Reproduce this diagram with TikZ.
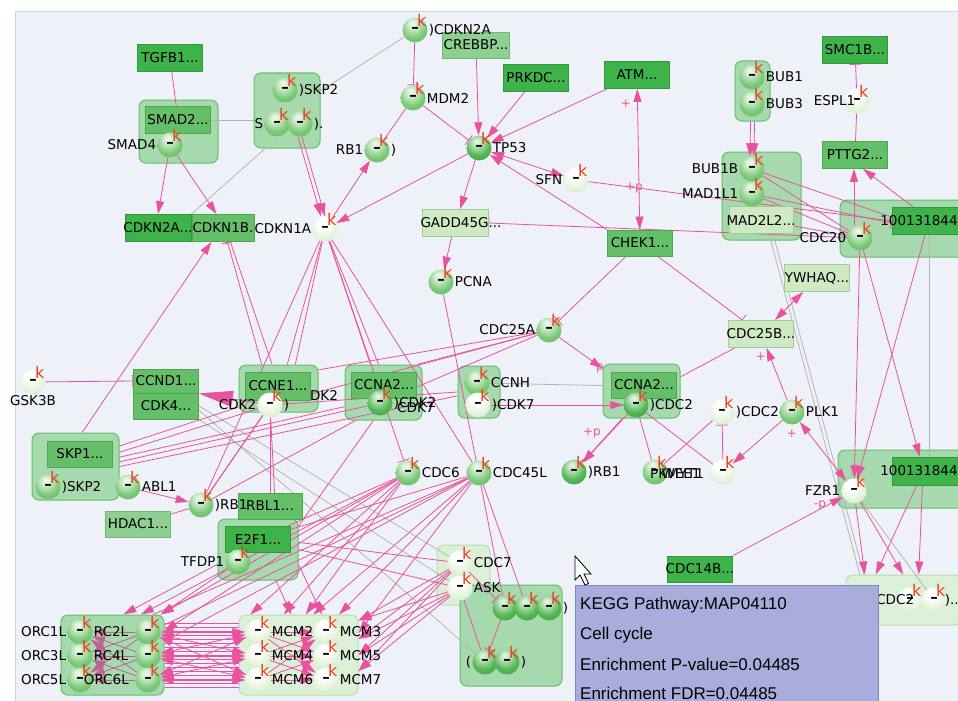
\documentclass[tikz,border=0pt]{standalone}
\usepackage{fontspec}
\setmainfont{DejaVu Sans}
\newfontfamily\infofont{Liberation Sans}
\usetikzlibrary{arrows.meta,calc}
\pgfdeclarelayer{grp}
\pgfdeclarelayer{edges}
\pgfsetlayers{grp,edges,main}
\definecolor{bgc}{HTML}{EEF2F8}
\definecolor{framec}{HTML}{C9D5E8}
\definecolor{pkc}{HTML}{E8529E}
\definecolor{grac}{HTML}{B4B4B4}
\definecolor{gdark}{HTML}{3DB34A}
\definecolor{gdarkd}{HTML}{2F9A3B}
\definecolor{gmid}{HTML}{65BF68}
\definecolor{gmidd}{HTML}{4AA94F}
\definecolor{glight}{HTML}{8FCF91}
\definecolor{glightd}{HTML}{6DBB70}
\definecolor{gpale}{HTML}{CFE9C4}
\definecolor{gpaled}{HTML}{9ACF92}
\definecolor{grpf}{HTML}{A6DAAE}
\definecolor{grpd}{HTML}{63C067}
\definecolor{grppf}{HTML}{DCF0D8}
\definecolor{grppd}{HTML}{B5DFB0}
\definecolor{infof}{HTML}{A8ADDB}
\definecolor{infod}{HTML}{7D86C6}
\definecolor{kred}{HTML}{F03C1E}
\definecolor{ballG}{HTML}{7FCB7C}
\definecolor{ballGr}{HTML}{56AE55}
\definecolor{ballD}{HTML}{55B855}
\definecolor{ballDr}{HTML}{3A963C}
\definecolor{ballP}{HTML}{E0F2D7}
\definecolor{ballPr}{HTML}{B4DAAA}
\pgfdeclareradialshading{shg}{\pgfpoint{-5bp}{14bp}}{color(0bp)=(ballG!15!white);color(6bp)=(ballG!25!white);color(24bp)=(ballG);color(44bp)=(ballGr);color(70bp)=(ballGr)}
\pgfdeclareradialshading{shd}{\pgfpoint{-5bp}{14bp}}{color(0bp)=(ballD!15!white);color(5bp)=(ballD!25!white);color(24bp)=(ballD);color(44bp)=(ballDr);color(70bp)=(ballDr)}
\pgfdeclareradialshading{shp}{\pgfpoint{-5bp}{14bp}}{color(0bp)=(white);color(10bp)=(white);color(28bp)=(ballP);color(46bp)=(ballPr);color(70bp)=(ballPr)}
\newcommand\ov[1]{\makebox[0pt]{#1}}
\begin{document}
\begin{tikzpicture}[x=1pt,y=-1pt,
 lab/.style={font=\fontsize{13.5}{14}\selectfont, inner sep=1pt, text=black},
 kk/.style={text=kred, font=\fontsize{16}{16}\selectfont, inner sep=0pt, xshift=-7pt, yshift=-6pt},
 ballbase/.style={circle, minimum size=25pt, inner sep=0pt, font=\bfseries\fontsize{15}{15}\selectfont, label={[kk]45:k}},
 gb/.style={ballbase, shading=shg},
 db/.style={ballbase, shading=shd},
 pb/.style={ballbase, shading=shp},
 box/.style={rectangle, minimum width=65pt, minimum height=27pt, inner sep=0pt, line width=0.8pt, font=\fontsize{13.5}{14}\selectfont},
 bdark/.style={box, fill=gdark, draw=gdarkd},
 bmid/.style={box, fill=gmid, draw=gmidd},
 blight/.style={box, fill=glight, draw=glightd},
 bpale/.style={box, fill=gpale, draw=gpaled},
 grp/.style={rectangle, rounded corners=7pt, fill=grpf, draw=grpd, line width=1pt, inner sep=0pt},
 grpp/.style={grp, fill=grppf, draw=grppd},
 e/.style={draw=pkc, line width=0.8pt},
 ea/.style={e, -{Triangle[width=8pt,length=13pt]}},
 eabig/.style={e, -{Triangle[width=16pt,length=34pt]}},
 eaa/.style={e, {Triangle[width=8pt,length=13pt]}-{Triangle[width=8pt,length=13pt]}},
 ei/.style={e, -{Bar[width=12pt]}},
 eg/.style={draw=grac, line width=0.8pt},
 pl/.style={text=pkc, font=\fontsize{12}{12}\selectfont, inner sep=0pt},
 info/.style={font=\infofont\fontsize{17}{18}\selectfont, anchor=west, inner sep=0pt}
]
\useasboundingbox (0,0) rectangle (958,701);
\begin{pgfonlayer}{grp}
\fill[white] (0,0) rectangle (958,701);
\filldraw[fill=bgc, draw=framec, line width=1pt] (15,12) rectangle (975,720);
\node[grp, minimum width=79pt, minimum height=63pt] (gsmad) at (178.5,131.5) {};
\node[grp, minimum width=66pt, minimum height=75pt] (gskp2) at (287,110.5) {};
\node[grp, minimum width=35pt, minimum height=60pt] (gbub) at (752.5,91) {};
\node[grp, minimum width=79pt, minimum height=88pt] (gmad) at (761.5,196) {};
\node[grp, minimum width=130pt, minimum height=57pt] (gcdc20) at (905,228.5) {};
\node[grp, minimum width=79pt, minimum height=47pt] (gccne) at (278.5,388.5) {};
\node[grp, minimum width=77pt, minimum height=55pt] (gccna2a) at (383.5,392.5) {};
\node[grp, minimum width=42pt, minimum height=52pt] (gccnh) at (479,392) {};
\node[grp, minimum width=77pt, minimum height=54pt] (gccna2b) at (641.5,391) {};
\node[grp, minimum width=87pt, minimum height=67pt] (gskp1) at (75.5,466.5) {};
\node[grp, minimum width=80pt, minimum height=61pt] (ge2f1) at (258,549.5) {};
\node[grpp, minimum width=53pt, minimum height=60pt] (gcdc7) at (463.5,575) {};
\node[grp, minimum width=102pt, minimum height=101pt] (gbig) at (511,635.5) {};
\node[grp, minimum width=132pt, minimum height=58pt] (gfzr1) at (904,479) {};
\node[grpp, minimum width=116pt, minimum height=50pt] (gbr) at (904,600) {};
\node[grp, minimum width=103pt, minimum height=80pt] (gorc) at (112.5,655) {};
\node[grpp, minimum width=119pt, minimum height=80pt] (gmcm) at (298.5,655) {};
\end{pgfonlayer}

% boxes
\node[bdark] (tgfb) at (170,58) {TGFB1...};
\node[bmid] (smad2) at (178,120) {SMAD2...};
\node[blight, minimum width=67pt, minimum height=26pt] (crebbp) at (476,45) {\ov{CREBBP...}};
\node[bdark] (prkdc) at (536,78) {PRKDC...};
\node[bdark] (atm) at (637,75) {ATM...};
\node[bdark, minimum width=66pt] (cdkn2ab) at (158,228) {\ov{CDKN2A...}};
\node[bmid, minimum width=62pt] (cdkn1b) at (223,228) {\ov{CDKN1B.}};
\node[bpale, minimum width=66pt] (gadd) at (455,223) {\ov{\hspace{12pt}GADD45G...}};
\node[bmid, minimum height=26pt] (chek1) at (640,243) {CHEK1...};
\node[bdark] (smc1b) at (855,50) {SMC1B...};
\node[bmid] (pttg2) at (855,155) {PTTG2...};
\node[bpale, minimum width=64pt] (mad2l2) at (761,220) {\ov{MAD2L2...}};
\node[bdark, minimum width=66pt] (b1001) at (925,221) {\ov{\hspace{-12pt}100131844}};
\node[bpale] (ywhaq) at (817,278) {\ov{YWHAQ...}};
\node[bpale] (cdc25b) at (761,334) {\ov{CDC25B...}};
\node[bmid, minimum height=24pt] (ccnd1) at (166,381) {CCND1...};
\node[bmid, minimum height=26pt] (cdk4) at (166,406) {CDK4...};
\node[bmid, minimum height=28pt] (ccne1) at (278,386) {\ov{CCNE1...}};
\node[bmid, minimum height=26pt] (ccna2a) at (384,385) {\ov{CCNA2...}};
\node[bmid, minimum height=26pt] (ccna2b) at (644,385) {\ov{CCNA2...}};
\node[bmid, minimum height=26pt] (skp1) at (80,454) {SKP1...};
\node[bmid, minimum width=64pt, minimum height=26pt] (rbl1) at (270,506) {RBL1...};
\node[blight, minimum height=26pt] (hdac1) at (138,524) {HDAC1...};
\node[bdark, minimum height=26pt] (e2f1) at (258,539) {E2F1...};
\node[bdark, minimum height=26pt] (cdc14b) at (700,569) {\ov{CDC14B...}};
\node[bdark, minimum width=66pt, minimum height=28pt] (b1002) at (925,471) {\ov{\hspace{-12pt}100131844}};

% balls
\node[gb, label={[lab]0:)CDKN2A}] (cdkn2a) at (415,30) {–};
\node[gb, label={[lab]0:)SKP2}] (skp2a) at (285,90) {–};
\node[gb, label={[lab]180:S}] (skp2b) at (277,124) {–};
\node[gb, label={[lab]0:).}] (skp2c) at (300,124) {–};
\node[gb, label={[lab]180:SMAD4}] (smad4) at (170,145) {–};
\node[gb, label={[lab]0:MDM2}] (mdm2) at (413,98) {–};
\node[gb, label={[lab]180:RB1}, label={[lab]0:)}] (rb1a) at (377,150) {–};
\node[db, label={[lab]0:TP53}] (tp53) at (479,148) {–};
\node[pb, label={[lab]180:SFN}] (sfn) at (576,180) {–};
\node[pb, label={[lab]180:CDKN1A}] (cdkn1a) at (325,229) {–};
\node[gb, label={[lab]0:PCNA}] (pcna) at (441,282) {–};
\node[gb, label={[lab]180:CDC25A}] (cdc25a) at (549,330) {–};
\node[gb, label={[lab]0:BUB1}] (bub1) at (752,77) {–};
\node[gb, label={[lab]0:BUB3}] (bub3) at (752,104) {–};
\node[pb, label={[lab,xshift=12pt]180:ESPL1}] (espl1) at (857,101) {–};
\node[gb, label={[lab]180:BUB1B}] (bub1b) at (752,169) {–};
\node[gb, label={[lab]180:MAD1L1}] (mad1l1) at (752,194) {–};
\node[gb, label={[lab]180:CDC20}] (cdc20) at (860,238) {–};
\node[pb, label={[lab]-90:GSK3B}] (gsk3b) at (33,382) {–};
\node[pb, label={[lab]180:CDK2}, label={[lab]0:)}] (cdk2a) at (270,405) {–};
\node[lab] (dk2) at (324,395) {DK2};
\node[db, label={[lab]0:)CDK2}] (cdk2b) at (380,403) {–};
\node[lab, anchor=west] (cdk7t) at (396,408) {CDK7};
\node[gb, label={[lab]0:CCNH}] (ccnh) at (477,383) {–};
\node[pb, label={[lab]0:)CDK7}] (cdk7) at (478,405) {–};
\node[db, label={[lab]0:)CDC2}] (cdc2a) at (636,405) {–};
\node[pb, label={[lab]0:)CDC2}] (cdc2b) at (722,412) {–};
\node[gb, label={[lab]0:PLK1}] (plk1) at (792,412) {–};
\node[db, label={[lab]0:)RB1}] (rb1b) at (574,472) {–};
\node[gb] (pkmyt) at (655,472) {–};
\node[pb] (wee1) at (723,472) {–};
\node[lab] (pkt) at (677,474) {PKMYT1};
\node[lab] (weet) at (681,474) {WEE1};
\node[gb, label={[lab]0:CDC6}] (cdc6) at (408,473) {–};
\node[gb, label={[lab]0:CDC45L}] (cdc45l) at (479,473) {–};
\node[gb, label={[lab]0:)SKP2}] (skp2d) at (48,487) {–};
\node[gb, label={[lab]0:ABL1}] (abl1) at (128,487) {–};
\node[gb, label={[lab]0:)RB1}] (rb1c) at (201,505) {–};
\node[gb, label={[lab]180:TFDP1}] (tfdp1) at (238,562) {–};
\node[pb, label={[lab]0:CDC7}] (cdc7) at (460,563) {–};
\node[pb, label={[lab]0:ASK}] (ask) at (460,588) {–};
\node[db, label={[lab]0:)}] (b1) at (505,608) {–};
\node[db, label={[lab]0:)}] (b2) at (527,608) {–};
\node[db, label={[lab]0:)}] (b3) at (549,608) {–};
\node[db, label={[lab]180:(}] (b4) at (485,662) {–};
\node[db, label={[lab]0:)}] (b5) at (507,662) {–};
\node[pb, label={[lab]180:FZR1}] (fzr1) at (854,491) {–};
\node[pb, label={[lab,xshift=18pt]180:CDC2}] (br1) at (910,600) {–};
\node[pb, label={[lab,xshift=-3pt]0:)..}] (br2) at (934,600) {–};
\node[gb, label={[lab]180:ORC1L}, label={[lab]0:RC2L}] (orc1) at (80,632) {–};
\node[gb, label={[lab]180:ORC3L}, label={[lab]0:RC4L}] (orc3) at (80,656) {–};
\node[gb, label={[lab]180:ORC5L}, label={[lab,xshift=-10pt]0:ORC6L}] (orc5) at (80,680) {–};
\node[gb] (orc2) at (148,632) {–};
\node[gb] (orc4) at (148,656) {–};
\node[gb] (orc6) at (148,680) {–};
\node[pb, label={[lab]0:MCM2}] (mcm2) at (258,632) {–};
\node[pb, label={[lab]0:MCM4}] (mcm4) at (258,656) {–};
\node[pb, label={[lab]0:MCM6}] (mcm6) at (258,680) {–};
\node[pb, label={[lab]0:MCM3}] (mcm3) at (326,632) {–};
\node[pb, label={[lab]0:MCM5}] (mcm5) at (326,656) {–};
\node[pb, label={[lab]0:MCM7}] (mcm7) at (326,680) {–};

\coordinate (c20t) at ([xshift=-6pt]cdc20.north);

\begin{pgfonlayer}{edges}
\draw[e] (tgfb) -- (smad2);
\draw[eg] (smad2.east) -- (smad2.east -| gskp2.west);
\draw[ea] (smad4) -- (cdkn2ab.north);
\draw[ea] (smad4) -- (cdkn1b.115);
\draw[eg] (gskp2.240) -- (cdkn2ab.north east);
\draw[eg] (cdkn2a) -- (gskp2.30);
\draw[ea] ([xshift=-2pt]skp2c.south) -- ([xshift=-4pt]cdkn1a.north);
\draw[ea] ([xshift=2pt]skp2c.south) -- ([xshift=0pt]cdkn1a.north);
\draw[ei] (cdkn2a) -- (mdm2);
\draw[ei] (mdm2) -- (tp53);
\draw[e] (mdm2) -- (rb1a);
\draw[ea] (crebbp) -- (tp53);
\draw[ea] (prkdc) -- (tp53);
\draw[ea] (atm) -- (tp53);
\draw[ea] (tp53) -- (cdkn1a);
\draw[ea] (cdkn1a) -- (rb1a);
\draw[ea] (tp53) -- (gadd.70);
\draw[eaa] (tp53) -- (sfn);
\draw[ea] (chek1.north west) -- (tp53);
\draw[e] (sfn) -- (b1001.west);
\draw[eaa] (atm) -- (chek1);
\draw[ei] (chek1) -- (cdc25a);
\draw[ei] (chek1) -- (cdc25b);
\draw[ei] (cdc20) -- (gadd.east);
\draw[ea] (gadd) -- (pcna);
% right top
\draw[ea] ([xshift=-2pt]gbub.south) -- ([xshift=-2pt]bub1b.north);
\draw[ea] ([xshift=2pt]gbub.south) -- ([xshift=2pt]bub1b.north);
\draw[ei] (espl1) -- (smc1b);
\draw[e] (espl1) -- (pttg2);
\draw[ea] (c20t) -- (c20t |- pttg2.south);
\draw[ea] (b1001.130) -- (pttg2.-60);
\draw[ei] (bub1b) -- ([yshift=4pt]b1001.west);
\draw[ei] (mad1l1) -- ([yshift=-2pt]b1001.west);
\draw[e] (bub1b) -- (cdc20);
\draw[e] (mad1l1) -- (cdc20);
\draw[e] (mad2l2) -- (cdc20);
\draw[eg] (mad2l2.-60) -- (gbr.150);
\draw[eg] ([xshift=4pt]mad2l2.-60) -- ([xshift=4pt]gbr.150);
\draw[eg] ([xshift=4pt]b1001.south) -- ([xshift=4pt]b1002.north);
\draw[ea] (cdc20) -- (b1002.110);
\draw[ea] (b1001.south) -- (fzr1);
\draw[ea] (cdc20) -- (fzr1);
\draw[eg] (fzr1) -- (br2);
\draw[ea] (fzr1) -- (gbr.147);
\draw[ea] (fzr1) -- (gbr.92);
\draw[ea] (b1002.-120) -- (gbr.138);
\draw[ea] (b1002.-100) -- (gbr.60);
\draw[ea] (cdc14b.north east) -- (fzr1);
\draw[eaa] (ywhaq) -- (cdc25b);
\draw[ea] (plk1) -- (cdc25b);
\draw[eaa] (fzr1) -- (plk1);
\draw[e] (cdc25b) -- (gccna2b.20);
\draw[ea] (cdc25a) -- (gccna2b.150);
\draw[e] (cdc2b) -- (pkmyt);
\draw[ei] (wee1) -- (cdc2b);
\draw[ea] (plk1) -- (wee1);
\draw[e] (cdc2a) -- (wee1);
\draw[e] (cdc2a) -- (pkmyt);
\draw[ea] (gccna2b.235) -- (rb1b);
\draw[ea] (cdc2a) -- (rb1b);
\draw[ea] (cdk7) -- (cdc2a);
\draw[eg] (ccnh) -- (gccna2b.172);
% cdc25a to the left
\draw[e] (cdc25a) -- (cdk2a);
\draw[e] (cdc25a) -- (gccne.25);
\draw[e] (cdc25a) -- (gccna2a.40);
\draw[e] (cdc25a) -- (cdk2b);
% left
\draw[ei] (gsk3b) -- (ccnd1.west);
\draw[ea] (gskp1.79) -- (cdkn1b.230);
\draw[ei] (gccne.125) -- (cdkn1b.-72);
\draw[ei] (gccne.105) -- (cdkn1b.-62);
\draw[e] (cdkn1a) -- (gccne.70);
\draw[e] (cdkn1a) -- (gccne.55);
\draw[e] (cdkn1a) -- (gccna2a.115);
\draw[e] (cdkn1a) -- (gccna2a.100);
\draw[ei] (cdkn1a) -- (cdc6);
\draw[e] (cdkn1a) -- (cdc45l);
\draw[e] (cdkn1a) -- (rb1c);
\draw[eabig] (cdk2a) -- (ccnd1.south east);
\draw[eg] (cdk4.east) -- (cdc7);
\draw[eg] (cdk4.south east) -- (ask);
\draw[eg] ([yshift=-4pt]cdk4.east) -- (b4);
\draw[e] (gskp1.25) -- (gccne.205);
\draw[e] (gskp1.18) -- (cdk2a);
\draw[e] (gskp1.12) -- (gccna2a.200);
\draw[e] (gskp1.6) -- (cdk2b);
\draw[e] (gskp1.0) -- (gccnh.190);
\draw[e] (cdk2a) -- (gccnh.180);
\draw[ea] (abl1) -- (rb1c);
\draw[e] (hdac1) -- (rb1c);
\draw[e] (rb1c) -- (cdk2a);
\draw[e] (rb1c) -- (gccne.240);
\draw[e] (rb1c) -- (gccna2a.225);
\draw[e] (rbl1) -- (cdk2a);
\draw[e] (e2f1) -- (cdc6);
\draw[e] (e2f1) -- (cdc45l);
\draw[ea] (ge2f1.200) -- (gorc.75);
\draw[ea] (tfdp1) -- (gorc.40);
\draw[ea] (ge2f1.-60) -- (gmcm.100);
\draw[ea] (ge2f1.-20) -- (gmcm.60);
\draw[e] (ge2f1.30) -- (gccna2a.250);
\draw[e] (ge2f1.60) -- (cdk2a);
\draw[e] (ge2f1.10) -- (cdc7);
\draw[e] (ge2f1.0) -- (ask);
\foreach \a in {25,40,55} {\draw[ea] (cdc6) -- (gorc.\a);}
\foreach \a in {80,110,140} {\draw[ea] (cdc6) -- (gmcm.\a);}
\foreach \a in {15,30,45} {\draw[e] (cdc45l) -- (gorc.\a);}
\foreach \a in {20,45,70} {\draw[ea] (cdc45l) -- (gmcm.\a);}
\foreach \a in {-15,0,15,30} {\draw[ea] (cdc7) -- (gmcm.\a); \draw[ea] (ask) -- (gmcm.\a);}
\draw[ei] (cdc7) -- (b1);
\draw[ei] (b1) -- (b4);
\draw[e] (ask) -- (b4);
\draw[e] (pcna) -- (b1);
\draw[e] (cdc45l) -- (b2);
% ORC - MCM
\foreach \d in {-32,-28,...,33} {\draw[e] ([yshift=\d pt]gorc.east) -- ([yshift=\d pt]gmcm.west);}
\foreach \o in {orc2,orc4,orc6} {\foreach \m in {mcm2,mcm4,mcm6} {\draw[eaa] (\o) -- (\m);}}
\foreach \m in {mcm2,mcm4,mcm6} {\foreach \n in {mcm3,mcm5,mcm7} {\draw[ea] (\m) -- (\n);}}
\foreach \o in {orc2,orc4,orc6} {\foreach \n in {orc1,orc3,orc5} {\draw[ea, draw=pkc!60!gray] (\o) -- (\n);}}
\end{pgfonlayer}

% edge labels
\node[pl] (pl1) at (626,104) {+};
\node[pl] (pl2) at (634,188) {+p};
\node[pl] (pl3) at (600,368) {p};
\node[pl] (pl4) at (592,433) {+p};
\node[pl] (pl5) at (761,357) {+};
\node[pl] (pl6) at (792,434) {+};
\node[pl] (pl7) at (820,505) {-p};

% info panel
\node[rectangle, fill=infof, draw=infod, line width=1pt, minimum width=303pt, minimum height=130pt, anchor=north west, inner sep=0pt] (infobox) at (575,585) {};
\node[info] (i1) at (580,605) {KEGG Pathway:MAP04110};
\node[info] (i2) at (580,635) {Cell cycle};
\node[info] (i3) at (580,664) {Enrichment P-value=0.04485};
\node[info] (i4) at (580,693) {Enrichment FDR=0.04485};
% mouse cursor
\filldraw[fill=white, draw=black, line width=0.8pt] (575,556) -- (575,580) -- (580,575) -- (585,585) -- (588.5,583.5) -- (584,574) -- (591,574) -- cycle;
\end{tikzpicture}
\end{document}
